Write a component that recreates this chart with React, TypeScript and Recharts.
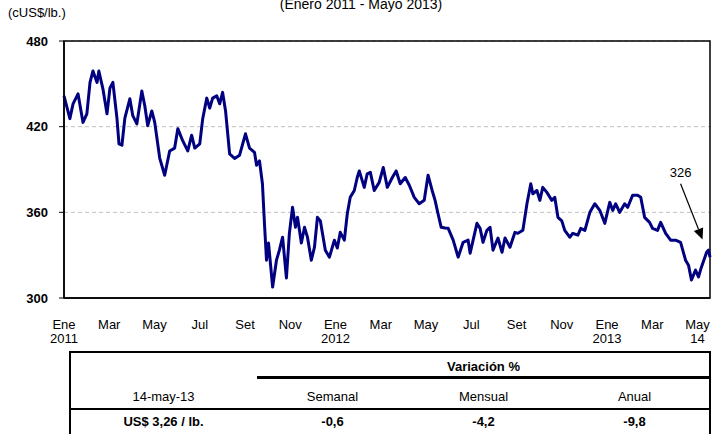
import React from 'react';
import {
  LineChart,
  Line,
  XAxis,
  YAxis,
  CartesianGrid,
  ReferenceArea,
  ReferenceLine,
} from 'recharts';

// months elapsed since January 2011
const months = [
  0, 0.26, 0.4, 0.62, 0.84, 1.01, 1.15, 1.28, 1.46, 1.54, 1.72, 1.9, 2.03, 2.16, 2.34, 2.43,
  2.56, 2.69, 2.91, 3.04, 3.22, 3.44, 3.57, 3.7, 3.88, 4.01, 4.23, 4.45, 4.67, 4.89, 5.03,
  5.25, 5.47, 5.64, 5.78, 6.0, 6.13, 6.31, 6.44, 6.57, 6.75, 6.88, 7.01, 7.14, 7.32, 7.54,
  7.76, 8.02, 8.2, 8.42, 8.51, 8.64, 8.77, 8.86, 8.95, 9.04, 9.22, 9.39, 9.52, 9.66, 9.83,
  9.96, 10.1, 10.23, 10.32, 10.49, 10.63, 10.76, 10.93, 11.07, 11.2, 11.33, 11.55, 11.73,
  11.95, 12.08, 12.21, 12.39, 12.52, 12.65, 12.83, 12.96, 13.05, 13.27, 13.4, 13.54, 13.71,
  13.93, 14.11, 14.29, 14.51, 14.68, 14.86, 15.08, 15.26, 15.48, 15.7, 15.92, 16.09, 16.27,
  16.4, 16.53, 16.67, 16.84, 16.98, 17.2, 17.42, 17.64, 17.86, 17.95, 18.25, 18.39, 18.52,
  18.69, 18.83, 18.96, 19.18, 19.36, 19.49, 19.71, 19.93, 20.06, 20.28, 20.46, 20.63, 20.72,
  20.9, 21.03, 21.16, 21.34, 21.56, 21.69, 21.83, 22.0, 22.13, 22.35, 22.49, 22.71, 22.84,
  23.02, 23.24, 23.46, 23.68, 23.9, 24.12, 24.25, 24.38, 24.56, 24.78, 24.91, 25.13, 25.35,
  25.49, 25.66, 25.88, 26.01, 26.23, 26.37, 26.59, 26.81, 27.03, 27.25, 27.47, 27.6, 27.73,
  27.91, 28.04, 28.17, 28.4, 28.48, 28.55,
];

// copper price, cUS$/lb.
const prices = [
  441.6, 425.6, 436, 443, 423, 429, 451, 459, 451, 459, 446.5, 429, 447, 451, 426, 408,
  407, 426, 439.5, 427.7, 422, 445, 434.6, 420.7, 431, 423, 398, 386, 403, 405, 418.6,
  410, 403, 414, 405, 408, 425.6, 440, 433, 440, 441.6, 436, 444, 431, 401, 397.7,
  400, 415, 405, 402, 393, 396, 380, 352, 326.5, 338.5, 307.7, 326.5, 333.5, 342.6, 314,
  345.3, 363.5, 349.5, 356.5, 338.5, 349.5, 342.6, 326.5, 335.6, 356.5, 354, 333.5, 328.6,
  340.5, 335, 346, 340.5, 359, 370.5, 375.3, 384.4, 389, 377.5, 387, 388, 375.3,
  381, 391.4, 377.5, 384.4, 389, 380, 384.4, 379, 370.5, 366, 368.4, 386, 375.3,
  368.4, 359, 349.5, 349, 348.8, 340.5, 328.6, 339, 340.5, 331.4, 352.3, 348.8, 339,
  347.4, 349.5, 333.5, 342, 332, 342, 335.6, 346, 345.3, 347.4, 366, 380, 373,
  375.3, 368.4, 377.5, 374, 368.4, 370.5, 356.5, 354, 347.4, 342.6, 345.3, 344, 348.8,
  347.4, 360, 366, 361.4, 352.3, 367, 361.4, 366, 360, 366, 363.5, 372, 372,
  370.5, 356.5, 353, 348.8, 347.4, 353, 345.3, 340.5, 340.5, 339, 326.5, 323, 312.6,
  319.5, 314.7, 321.6, 332, 333.5, 328.6,
];

const tickMonths = [0, 2, 4, 6, 8, 10, 12, 14, 16, 18, 20, 22, 24, 26, 28];
const monthLabels = ['Ene', 'Mar', 'May', 'Jul', 'Set', 'Nov', 'Ene', 'Mar', 'May', 'Jul', 'Set', 'Nov', 'Ene', 'Mar', 'May'];
const yearLabels = ['2011', '', '', '', '', '', '2012', '', '', '', '', '', '2013', '', '14'];
const yTicks = [300, 360, 420, 480];

const lastLabel = '326';
const arrowStart = { t: 27.25, v: 380 };
const arrowEnd = { t: 28.22, v: 341 };

const tableDate = '14-may-13';
const priceLabel = 'US$ 3,26 / lb.';
const variationTitle = 'Variación %';
const variationHeaders = ['Semanal', 'Mensual', 'Anual'];
const variations = ['-0,6', '-4,2', '-9,8'];

const data = months.map((t, i) => ({ t, price: prices[i] }));

const FONT = '"Liberation Sans", Arial, sans-serif';

const MonthTick = (props: any) => {
  const { x, y, index } = props;
  return (
    <g>
      <text x={x} y={y + 23} textAnchor="middle" fontSize={13} fontFamily={FONT} fill="#000">
        {monthLabels[index]}
      </text>
      <text x={x} y={y + 37} textAnchor="middle" fontSize={13} fontFamily={FONT} fill="#000">
        {yearLabels[index]}
      </text>
    </g>
  );
};

const ArrowNote = (props: any) => {
  const { x1, y1, x2, y2 } = props;
  if (x1 == null) return null;
  const ang = Math.atan2(y2 - y1, x2 - x1);
  const len = 11;
  const half = 5;
  const bx = x2 - len * Math.cos(ang);
  const by = y2 - len * Math.sin(ang);
  const px = -Math.sin(ang) * half;
  const py = Math.cos(ang) * half;
  return (
    <g>
      <line x1={x1} y1={y1} x2={bx} y2={by} stroke="#000" strokeWidth={1.2} />
      <polygon points={`${x2},${y2} ${bx + px},${by + py} ${bx - px},${by - py}`} fill="#000" />
      <text x={x1} y={y1 - 7} textAnchor="middle" fontSize={13} fontFamily={FONT} fill="#000">
        {lastLabel}
      </text>
    </g>
  );
};

const cell = (left: number, top: number, width: number, text: string, bold = false) => (
  <div
    style={{
      position: 'absolute',
      left,
      top,
      width,
      textAlign: 'center',
      fontSize: 13,
      fontWeight: bold ? 'bold' : 'normal',
      lineHeight: '16px',
    }}
  >
    {text}
  </div>
);

export default function App() {
  const colLefts = [257, 408, 559];
  return (
    <div
      style={{
        position: 'absolute',
        left: 0,
        top: 0,
        width: 722,
        height: 434,
        overflow: 'hidden',
        background: '#fff',
        fontFamily: FONT,
        color: '#000',
      }}
    >
      <div style={{ position: 'absolute', left: 0, top: -4, width: 722, textAlign: 'center', fontSize: 14 }}>
        (Enero 2011 - Mayo 2013)
      </div>
      <div style={{ position: 'absolute', left: 8, top: 5, fontSize: 13 }}>(cUS$/lb.)</div>

      <div style={{ position: 'absolute', left: 0, top: 0 }}>
        <LineChart width={722} height={350} data={data} margin={{ top: 41, right: 12, bottom: 12, left: 0 }}>
          <CartesianGrid vertical={false} stroke="#c0c0c0" strokeDasharray="4 3" />
          <XAxis
            dataKey="t"
            type="number"
            domain={[0, 28.55]}
            ticks={tickMonths}
            interval={0}
            tickLine={false}
            axisLine={{ stroke: '#000', strokeWidth: 1.5 }}
            tick={<MonthTick />}
            height={40}
          />
          <YAxis
            type="number"
            domain={[300, 480]}
            ticks={yTicks}
            width={64}
            tickSize={5}
            tickMargin={11}
            tickLine={{ stroke: '#000' }}
            axisLine={{ stroke: '#000', strokeWidth: 1.5 }}
            tick={{ fontSize: 13, fontWeight: 'bold', fill: '#000', fontFamily: FONT }}
          />
          <ReferenceArea x1={0} x2={28.55} y1={300} y2={480} fill="none" stroke="#000" strokeWidth={1.5} />
          <Line
            type="linear"
            dataKey="price"
            stroke="#000080"
            strokeWidth={3}
            strokeLinejoin="round"
            dot={false}
            isAnimationActive={false}
          />
          <ReferenceLine
            segment={[
              { x: arrowStart.t, y: arrowStart.v },
              { x: arrowEnd.t, y: arrowEnd.v },
            ]}
            shape={<ArrowNote />}
          />
        </LineChart>
      </div>

      {/* summary table */}
      <div style={{ position: 'absolute', left: 70, top: 351, width: 640, height: 1.5, background: '#000' }} />
      <div style={{ position: 'absolute', left: 69, top: 351, width: 1.5, height: 90, background: '#000' }} />
      <div style={{ position: 'absolute', left: 709, top: 351, width: 1.5, height: 90, background: '#000' }} />
      <div style={{ position: 'absolute', left: 257, top: 376, width: 453, height: 3, background: '#000' }} />
      <div style={{ position: 'absolute', left: 70, top: 407.5, width: 640, height: 2, background: '#000' }} />
      {cell(257, 359, 453, variationTitle, true)}
      {cell(70, 389, 187, tableDate)}
      {variationHeaders.map((h, i) => (
        <React.Fragment key={h}>{cell(colLefts[i], 389, 151, h)}</React.Fragment>
      ))}
      {cell(70, 414, 187, priceLabel, true)}
      {variations.map((v, i) => (
        <React.Fragment key={i}>{cell(colLefts[i], 414, 151, v, true)}</React.Fragment>
      ))}
    </div>
  );
}
